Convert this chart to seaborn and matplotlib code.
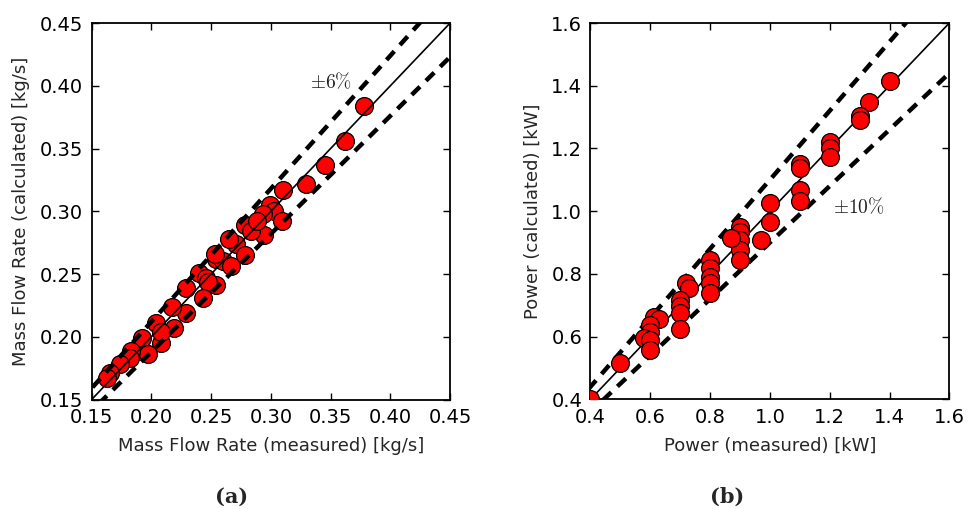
import numpy as np
import pandas as pd
import matplotlib
matplotlib.use("Agg")
import matplotlib.pyplot as plt
import seaborn as sns

# ---- data: panel (a) mass flow rate [kg/s] ----
mfr_measured = [0.378, 0.362, 0.345, 0.329, 0.310, 0.299, 0.303, 0.293, 0.309, 0.294,
                0.278, 0.283, 0.288, 0.271, 0.265, 0.278, 0.254, 0.260, 0.267, 0.253,
                0.240, 0.246, 0.254, 0.247, 0.243, 0.229, 0.229, 0.217, 0.219, 0.204,
                0.208, 0.208, 0.192, 0.197, 0.183, 0.182, 0.174, 0.165, 0.1625]
mfr_calculated = [0.384, 0.356, 0.337, 0.322, 0.317, 0.305, 0.300, 0.298, 0.292, 0.281,
                  0.289, 0.284, 0.292, 0.274, 0.278, 0.265, 0.262, 0.260, 0.256, 0.266,
                  0.251, 0.247, 0.241, 0.244, 0.231, 0.239, 0.219, 0.224, 0.207, 0.211,
                  0.195, 0.204, 0.199, 0.186, 0.189, 0.183, 0.178, 0.171, 0.1668]

# ---- data: panel (b) power [kW] ----
pow_measured = [1.4, 1.333, 1.3, 1.3, 1.2, 1.2, 1.2, 1.1, 1.1, 1.1,
                1.1, 1.0, 1.0, 0.97, 0.9, 0.9, 0.9, 0.9, 0.9, 0.87,
                0.8, 0.8, 0.8, 0.8, 0.8, 0.72, 0.73, 0.7, 0.7, 0.7,
                0.7, 0.613, 0.628, 0.6, 0.6, 0.578, 0.6, 0.6, 0.5, 0.4]
pow_calculated = [1.414, 1.347, 1.305, 1.292, 1.222, 1.200, 1.174, 1.150, 1.137, 1.068,
                  1.031, 1.025, 0.967, 0.909, 0.951, 0.935, 0.909, 0.877, 0.845, 0.914,
                  0.845, 0.818, 0.791, 0.770, 0.740, 0.770, 0.754, 0.717, 0.696, 0.674,
                  0.623, 0.662, 0.655, 0.637, 0.616, 0.595, 0.589, 0.557, 0.517, 0.400]

mfr_ticks = [0.15, 0.20, 0.25, 0.30, 0.35, 0.40, 0.45]
pow_ticks = [0.4, 0.6, 0.8, 1.0, 1.2, 1.4, 1.6]
mfr_tol = 0.06
pow_tol = 0.10

sns.set_style("ticks")
plt.rcParams["font.family"] = ["DejaVu Sans"]
plt.rcParams["mathtext.fontset"] = "cm"

fig = plt.figure(figsize=(9.68, 5.09), dpi=100)
axA = fig.add_axes([0.0947, 0.2151, 0.3703, 0.7397])
axB = fig.add_axes([0.6100, 0.2155, 0.3707, 0.7393])

def panel(ax, mx, my, ticks, tol, xlabel, ylabel, tol_text, tol_pos, fmt, line_z):
    lo, hi = ticks[0], ticks[-1]
    ref = np.array([lo - 1, hi + 1])
    df = pd.DataFrame({"m": mx, "c": my})
    sns.scatterplot(data=df, x="m", y="c", ax=ax, s=165, color="#ff0000",
                    edgecolor="black", linewidth=0.9, zorder=3)
    ax.plot(ref, ref, color="black", lw=1.2, zorder=line_z)
    ax.plot(ref, ref * (1 + tol), color="black", lw=3.2, dashes=(2.6, 1.9), zorder=line_z)
    ax.plot(ref, ref * (1 - tol), color="black", lw=3.2, dashes=(2.6, 1.9), zorder=line_z)
    ax.set_xlim(lo, hi)
    ax.set_ylim(lo, hi)
    ax.set_xticks(ticks)
    ax.set_yticks(ticks)
    ax.set_xticklabels([fmt.format(t) for t in ticks])
    ax.set_yticklabels([fmt.format(t) for t in ticks])
    ax.tick_params(direction="in", length=5, width=1, labelsize=14, pad=6,
                   top=True, right=True, colors="black")
    for s in ax.spines.values():
        s.set_linewidth(1.3)
        s.set_color("black")
    ax.set_xlabel(xlabel, fontsize=13, labelpad=7)
    ax.set_ylabel(ylabel, fontsize=13, labelpad=7)
    ax.text(tol_pos[0], tol_pos[1], tol_text, fontsize=14, ha="left", va="center",
            color="#222222")

panel(axA, mfr_measured, mfr_calculated, mfr_ticks, mfr_tol,
      "Mass Flow Rate (measured) [kg/s]", "Mass Flow Rate (calculated) [kg/s]",
      r"$\pm6\%$", (0.333, 0.4034), "{:.2f}", 4)
panel(axB, pow_measured, pow_calculated, pow_ticks, pow_tol,
      "Power (measured) [kW]", "Power (calculated) [kW]",
      r"$\pm10\%$", (1.212, 1.014), "{:.1f}", 2)

fig.text(0.2397, 0.024, "(a)", fontsize=15, fontweight="bold",
         family="DejaVu Serif", ha="center", va="center")
fig.text(0.7512, 0.024, "(b)", fontsize=15, fontweight="bold",
         family="DejaVu Serif", ha="center", va="center")

fig.savefig("out.png", dpi=100)
